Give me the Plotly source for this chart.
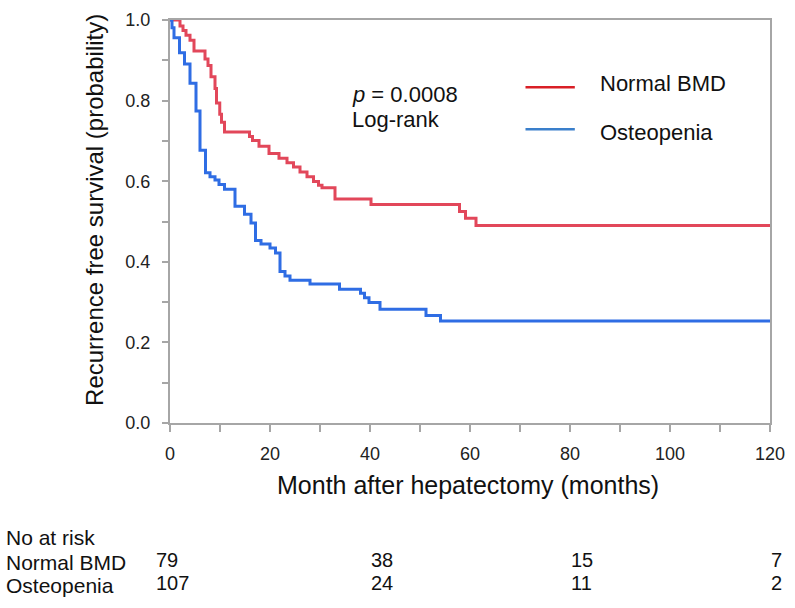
import plotly.graph_objects as go


# DANE

normal_t = [0, 2.0, 2.6, 3.2, 4.0, 4.8, 7.0, 7.6, 8.2, 9.0, 9.3, 9.95, 10.3, 10.9,
            15.9, 16.5, 17.8, 19.8, 21.8, 23.4, 24.7, 26.0, 27.4, 28.7, 29.7, 30.4,
            33.0, 40.2, 57.9, 59.1, 61.2, 120]
normal_s = [1.0, 0.985, 0.974, 0.962, 0.950, 0.923, 0.903, 0.887, 0.859, 0.830, 0.794,
            0.766, 0.746, 0.722, 0.711, 0.701, 0.687, 0.669, 0.657, 0.646, 0.635, 0.623,
            0.611, 0.599, 0.590, 0.584, 0.556, 0.542, 0.525, 0.508, 0.490, 0.490]

osteo_t = [0, 0.4, 0.8, 1.9, 2.9, 4.0, 5.2, 6.0, 7.1, 8.0, 9.0, 9.8, 10.9, 13.0, 14.9,
           16.2, 17.1, 18.2, 20.0, 21.1, 22.0, 23.0, 24.0, 28.0, 33.9, 38.1, 38.9, 39.8,
           42.0, 51.2, 54.1, 120]
osteo_s = [1.0, 0.981, 0.956, 0.919, 0.891, 0.843, 0.774, 0.677, 0.621, 0.611, 0.603,
           0.592, 0.580, 0.538, 0.518, 0.496, 0.453, 0.444, 0.434, 0.422, 0.376, 0.365,
           0.354, 0.345, 0.332, 0.322, 0.311, 0.299, 0.282, 0.267, 0.253, 0.253]

risk_months = [0, 40, 80, 120]
risk_normal = [79, 38, 15, 7]
risk_osteo = [107, 24, 11, 2]

grupy = ["Normal BMD", "Osteopenia"]

FONT = "Liberation Sans, Arial, sans-serif"
GRAY = "#a6a6a6"


# WYKRES

fig = go.Figure()

fig.add_trace(
    go.Scatter(
        x=normal_t,
        y=normal_s,
        mode="lines",
        line=dict(shape="hv", color="#e2475a", width=3),
        cliponaxis=False,
        name=grupy[0],
        showlegend=False
    )
)

fig.add_trace(
    go.Scatter(
        x=osteo_t,
        y=osteo_s,
        mode="lines",
        line=dict(shape="hv", color="#2f6de4", width=3),
        cliponaxis=False,
        name=grupy[1],
        showlegend=False
    )
)


# OSIE

fig.update_xaxes(
    range=[0, 120],
    tickvals=[0, 20, 40, 60, 80, 100, 120],
    ticks="outside",
    ticklen=7,
    tickwidth=1.5,
    tickcolor=GRAY,
    minor=dict(dtick=10, ticks="outside", ticklen=7, tickwidth=1.5, tickcolor=GRAY),
    showline=True,
    linecolor=GRAY,
    linewidth=2,
    mirror=True,
    showgrid=False,
    zeroline=False,
    ticklabelstandoff=6,
    ticklabeloverflow="allow",
    tickfont=dict(family=FONT, size=18, color="#222222")
)

fig.update_yaxes(
    range=[0, 1.0],
    tickvals=[0, 0.2, 0.4, 0.6, 0.8, 1.0],
    tickformat=".1f",
    ticks="outside",
    ticklen=6,
    tickwidth=1.5,
    tickcolor=GRAY,
    minor=dict(dtick=0.1, ticks="outside", ticklen=6, tickwidth=1.5, tickcolor=GRAY),
    showline=True,
    linecolor=GRAY,
    linewidth=2,
    mirror=True,
    showgrid=False,
    zeroline=False,
    ticklabelstandoff=8,
    ticklabeloverflow="allow",
    tickfont=dict(family=FONT, size=18, color="#222222")
)


# OPISY

napisy = []

napisy.append(dict(
    text="Recurrence free survival (probability)",
    xref="paper", yref="paper", x=-0.1257, y=1.019,
    xanchor="center", yanchor="top", textangle=-90,
    showarrow=False, font=dict(family=FONT, size=24, color="#111111")
))

napisy.append(dict(
    text="Month after hepatectomy (months)",
    xref="paper", yref="paper", x=0.497, y=-0.154,
    xanchor="center", yanchor="middle",
    showarrow=False, font=dict(family=FONT, size=25, color="#111111")
))

napisy.append(dict(
    text="<i>p</i> = 0.0008",
    xref="paper", yref="paper", x=0.300, y=0.816,
    xanchor="left", yanchor="middle",
    showarrow=False, font=dict(family=FONT, size=22, color="#111111")
))

napisy.append(dict(
    text="Log-rank",
    xref="paper", yref="paper", x=0.300, y=0.753,
    xanchor="left", yanchor="middle",
    showarrow=False, font=dict(family=FONT, size=22, color="#111111")
))

# legenda
for nazwa, y_leg in zip(grupy, [0.843, 0.722]):
    napisy.append(dict(
        text=nazwa,
        xref="paper", yref="paper", x=0.714, y=y_leg,
        xanchor="left", yanchor="middle",
        showarrow=False, font=dict(family=FONT, size=22, color="#111111")
    ))

linie = [
    dict(type="line", xref="paper", yref="paper", x0=0.5925, x1=0.6747,
         y0=0.833, y1=0.833, line=dict(color="#d91f26", width=2.5)),
    dict(type="line", xref="paper", yref="paper", x0=0.5925, x1=0.6747,
         y0=0.729, y1=0.729, line=dict(color="#3a7fcb", width=2.5)),
]

# tabela "No at risk"
napisy.append(dict(
    text="No at risk",
    xref="paper", yref="paper", x=-0.276, y=-0.283,
    xanchor="left", yanchor="middle",
    showarrow=False, font=dict(family=FONT, size=21, color="#111111")
))

for nazwa, liczby, y_row in zip(grupy, [risk_normal, risk_osteo], [-0.346, -0.404]):
    napisy.append(dict(
        text=nazwa,
        xref="paper", yref="paper", x=-0.276, y=y_row,
        xanchor="left", yanchor="middle",
        showarrow=False, font=dict(family=FONT, size=21, color="#111111")
    ))
    for m, n in zip(risk_months, liczby):
        napisy.append(dict(
            text=str(n),
            xref="paper", yref="paper", x=m / 120, y=y_row + 0.006,
            xshift=-16 if m == 0 else -1,
            xanchor="left", yanchor="middle",
            showarrow=False, font=dict(family=FONT, size=20, color="#111111")
        ))

fig.update_layout(
    width=795,
    height=608,
    margin=dict(l=170, r=17, t=10, b=185),
    plot_bgcolor="white",
    paper_bgcolor="white",
    annotations=napisy,
    shapes=linie
)

# bez marginesu strony, zeby wykres zaczynal sie w rogu okna
fig.write_html(
    "out.html",
    config={"displayModeBar": False},
    post_script="document.body.style.margin = '0';"
)
